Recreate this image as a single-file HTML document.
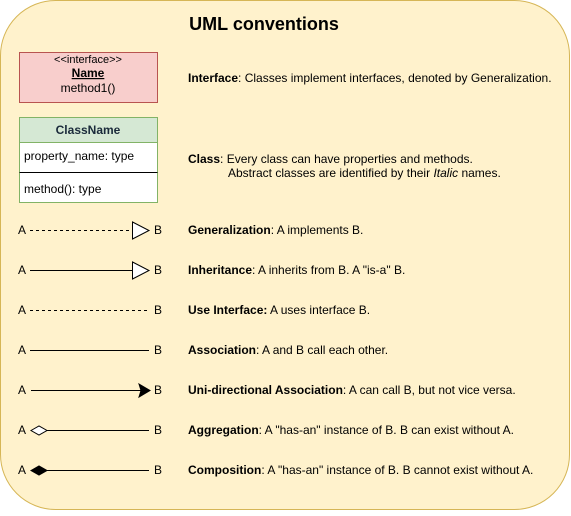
<!DOCTYPE html>
<html><head><style>
body{margin:0;width:571px;height:511px;overflow:hidden;background:#fff;font-family:"Liberation Sans",Arial,sans-serif}
</style></head><body>
<svg width="571" height="511" xmlns="http://www.w3.org/2000/svg" font-family="Liberation Sans, Arial, sans-serif">
<rect x="0.5" y="0.5" width="569" height="509" rx="55" fill="#fff2cc" stroke="#d6b656"/>
<text x="264" y="30" font-size="18" font-weight="bold" text-anchor="middle">UML conventions</text>
<rect x="19.5" y="52.5" width="138" height="50" fill="#f8cecc" stroke="#b85450"/>
<text x="88" y="63" font-size="11" text-anchor="middle">&lt;&lt;interface&gt;&gt;</text>
<text x="88" y="77" font-size="12" font-weight="bold" text-anchor="middle" text-decoration="underline">Name</text>
<text x="88" y="92" font-size="12" text-anchor="middle">method1()</text>
<rect x="19.5" y="117.5" width="138" height="85" fill="#fff" stroke="#82b366"/>
<rect x="19.5" y="117.5" width="138" height="25" fill="#d5e8d4" stroke="#82b366"/>
<text x="88" y="134" font-size="12" font-weight="bold" fill="#1a2a3a" text-anchor="middle">ClassName</text>
<text x="24" y="160" font-size="12">property_name: type</text>
<line x1="19.5" y1="172.5" x2="157.5" y2="172.5" stroke="#000"/>
<text x="24" y="193" font-size="12">method(): type</text>
<g font-size="12">
<text x="18" y="234">A</text><text x="154" y="234">B</text>
<line x1="30" y1="230.5" x2="132" y2="230.5" stroke="#000" stroke-dasharray="3,3"/>
<polygon points="132.5,222 149,230.5 132.5,239" fill="#fff" stroke="#000"/>
<text x="18" y="274">A</text><text x="154" y="274">B</text>
<line x1="30" y1="270.5" x2="132" y2="270.5" stroke="#000"/>
<polygon points="132.5,262 149,270.5 132.5,279" fill="#fff" stroke="#000"/>
<text x="18" y="314">A</text><text x="154" y="314">B</text>
<line x1="30" y1="310.5" x2="149" y2="310.5" stroke="#000" stroke-dasharray="3,3"/>
<text x="18" y="354">A</text><text x="154" y="354">B</text>
<line x1="30" y1="350.5" x2="149" y2="350.5" stroke="#000"/>
<text x="18" y="394">A</text><text x="154" y="394">B</text>
<line x1="31" y1="390.5" x2="142" y2="390.5" stroke="#000"/>
<polygon points="139,384 150,390.5 139,397 141,390.5" fill="#000" stroke="#000"/>
<text x="18" y="434">A</text><text x="154" y="434">B</text>
<line x1="46" y1="430.5" x2="149" y2="430.5" stroke="#000"/>
<polygon points="31,430.5 39,426 47,430.5 39,435" fill="#fff" stroke="#000"/>
<text x="18" y="474">A</text><text x="154" y="474">B</text>
<line x1="46" y1="470.5" x2="149" y2="470.5" stroke="#000"/>
<polygon points="31,470.5 39,466 47,470.5 39,475" fill="#000" stroke="#000"/>
</g>
<g font-size="12">
<text x="188" y="82"><tspan font-weight="bold">Interface</tspan>: Classes implement interfaces, denoted by Generalization.</text>
<text x="188" y="163"><tspan font-weight="bold">Class</tspan>: Every class can have properties and methods.</text>
<text x="228" y="177">Abstract classes are identified by their <tspan font-style="italic">Italic</tspan> names.</text>
<text x="188" y="234"><tspan font-weight="bold">Generalization</tspan>: A implements B.</text>
<text x="188" y="274"><tspan font-weight="bold">Inheritance</tspan>: A inherits from B. A "is-a" B.</text>
<text x="188" y="314"><tspan font-weight="bold">Use Interface:</tspan> A uses interface B.</text>
<text x="188" y="354"><tspan font-weight="bold">Association</tspan>: A and B call each other.</text>
<text x="188" y="394"><tspan font-weight="bold">Uni-directional Association</tspan>: A can call B, but not vice versa.</text>
<text x="188" y="434"><tspan font-weight="bold">Aggregation</tspan>: A "has-an" instance of B. B can exist without A.</text>
<text x="188" y="474"><tspan font-weight="bold">Composition</tspan>: A "has-an" instance of B. B cannot exist without A.</text>
</g>
</svg>
</body></html>
